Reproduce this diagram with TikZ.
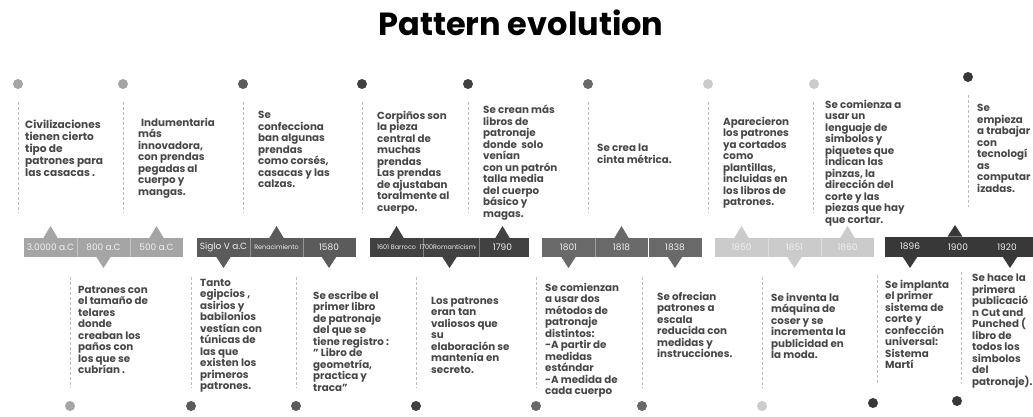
\documentclass[tikz,border=0pt]{standalone}
\usepackage{fontspec}
\setmainfont{Poppins}
\definecolor{txt}{HTML}{474747}
\definecolor{gA}{HTML}{A5A5A5}
\definecolor{gB}{HTML}{5B5B5B}
\definecolor{gC}{HTML}{414141}
\definecolor{gD}{HTML}{696969}
\definecolor{gE}{HTML}{CBCBCB}
\definecolor{gF}{HTML}{383838}
\definecolor{vl}{HTML}{BDBDBD}
\newcommand\uptri[2]{\fill[#2] (#1-7.5,238.5) -- (#1,226) -- (#1+7.5,238.5) -- cycle;}
\newcommand\dntri[2]{\fill[#2] (#1-7.5,256.5) -- (#1,268) -- (#1+7.5,256.5) -- cycle;}
\tikzset{
  dot/.style={circle, inner sep=0pt, minimum size=10pt},
  vline/.style={draw=vl, line width=0.8pt, dash pattern=on 3pt off 2pt},
  body/.style={anchor=north west, inner sep=0pt, align=left, text=txt,
    font=\bfseries\fontsize{10.3}{11.5}\selectfont},
  cell/.style={minimum width=53pt, minimum height=19pt, inner sep=0pt,
    text=white!94!black, font=\fontsize{9}{10}\selectfont},
  tiny/.style={font=\fontsize{6.4}{7}\selectfont},
  divider/.style={draw=white, draw opacity=0.35, line width=0.6pt}
}
\begin{document}
\begin{tikzpicture}[x=1pt,y=-1pt]
\useasboundingbox (0,0) rectangle (1033,417);
\fill[white] (0,0) rectangle (1033,417);

\node[font=\bfseries\fontsize{32}{36}\selectfont] (title) at (521,23) {Pattern evolution};

% ---------- bar: group 1
\node[cell, fill=gA] (c1a) at (50.5,247.5) {3.0000 a.C};
\node[cell, fill=gA] (c1b) at (103.5,247.5) {800 a.C};
\node[cell, fill=gA] (c1c) at (156.5,247.5) {500 a.C};
\uptri{50.5}{gA}\dntri{103.5}{gA}\uptri{156.5}{gA}
% group 2
\node[cell, fill=gB] (c2a) at (223.5,247.5) {Siglo V a.C};
\node[cell, fill=gB, tiny] (c2b) at (276.5,247.5) {Renacimiento};
\node[cell, fill=gB] (c2c) at (329,247.5) {1580};
\dntri{223.5}{gB}\uptri{276.5}{gB}\dntri{329}{gB}
% group 3
\node[cell, fill=gC, tiny] (c3a) at (396.5,247.5) {1601 Barroco};
\node[cell, fill=gC, tiny] (c3b) at (449.5,247.5) {1700Romanticismo};
\node[cell, fill=gC] (c3c) at (502.5,247.5) {1790};
\uptri{396.5}{gC}\dntri{449.5}{gC}\uptri{502.5}{gC}
% group 4
\node[cell, fill=gD] (c4a) at (568.5,247.5) {1801};
\node[cell, fill=gD] (c4b) at (621.5,247.5) {1818};
\node[cell, fill=gD] (c4c) at (675,247.5) {1838};
\dntri{568.5}{gD}\uptri{621.5}{gD}\dntri{675}{gD}
% group 5
\node[cell, fill=gE] (c5a) at (741.5,247.5) {1850};
\node[cell, fill=gE] (c5b) at (794.5,247.5) {1851};
\node[cell, fill=gE] (c5c) at (847.5,247.5) {1860};
\uptri{741.5}{gE}\dntri{794.5}{gE}\uptri{847.5}{gE}
% group 6
\fill[gF] (885,236.5) rectangle (1033,257);
\node[cell, fill=gF, minimum width=48pt, minimum height=20.5pt] (c6a) at (910,246.75) {1896};
\node[cell, fill=gF, minimum width=48pt, minimum height=20.5pt] (c6b) at (958,246.75) {1900};
\node[cell, fill=gF, minimum width=48pt, minimum height=20.5pt] (c6c) at (1007,246.75) {1920};
\fill[gF] (955-7.5,236.6) -- (955,225) -- (955+7.5,236.6) -- cycle;
\dntri{910}{gF}\dntri{1010}{gF}
% dividers
\foreach \c in {c1a,c1b,c2a,c2b,c3a,c3b,c4a,c4b,c5a,c5b}
  \draw[divider] (\c.north east) -- (\c.south east);

% ---------- upper events
\node[dot, fill=gA] (d1) at (18,84) {};
\draw[vline] (18,102) -- (18,213);
\node[body, font=\bfseries\fontsize{10.6}{12.2}\selectfont] (t1) at (25,119.5) {Civilizaciones\\tienen cierto\\tipo de\\patrones para\\las casacas .};

\node[dot, fill=gA] (d2) at (123,84) {};
\draw[vline] (123,102) -- (123,213);
\node[body] (t2) at (138,118) {\hspace{3pt}Indumentaria\\más\\innovadora,\\con prendas\\pegadas al\\cuerpo y\\mangas.};

\node[dot, fill=gB] (d3) at (243,84) {};
\draw[vline] (243,102) -- (243,213);
\node[body] (t3) at (258,111) {Se\\confecciona\\ban algunas\\prendas\\como corsés,\\casacas y las\\calzas.};

\node[dot, fill=gC] (d4) at (362,84) {};
\draw[vline] (362,102) -- (362,213);
\node[body] (t4) at (377,111) {Corpiños son\\la pieza\\central de\\muchas\\prendas\\Las prendas\\de ajustaban\\toralmente al\\cuerpo.};

\node[dot, fill=gC] (d5) at (468,84) {};
\draw[vline] (468,102) -- (468,213);
\node[body] (t5) at (483,105) {Se crean más\\libros de\\patronaje\\donde\ \ solo\\venían\\con un patrón\\talla media\\del cuerpo\\básico y\\magas.};

\node[dot, fill=gD] (d6) at (588,84) {};
\draw[vline] (588,102) -- (588,213);
\node[body] (t6) at (597,144) {Se crea la\\cinta métrica.};

\node[dot, fill=gE] (d7) at (708,84) {};
\draw[vline] (708,102) -- (708,213);
\node[body] (t7) at (723,117) {Aparecieron\\los patrones\\ya cortados\\como\\plantillas,\\incluidas en\\los libros de\\patrones.};

\node[dot, fill=gE] (d8) at (814,84) {};
\draw[vline] (813,102) -- (813,213);
\node[body] (t8) at (825,100) {Se comienza a\\usar un\\lenguaje de\\simbolos y\\piquetes que\\indican las\\pinzas, la\\dirección del\\corte y las\\piezas que hay\\que cortar.};

\node[dot, fill=gF] (d9) at (968,77) {};
\draw[vline] (968,95) -- (968,207);
\node[body] (t9) at (977,104) {Se\\empieza\\a trabajar\\con\\tecnologí\\as\\computar\\izadas.};

% ---------- lower events
\draw[vline] (70,277) -- (70,388);
\node[body] (tA) at (78,286) {Patrones con\\el tamaño de\\telares\\donde\\creaban los\\paños con\\los que se\\cubrían .};
\node[dot, fill=gA] (dA) at (70,406) {};

\draw[vline] (191,277) -- (191,388);
\node[body] (tB) at (200,279) {Tanto\\egipcios ,\\asirios y\\babilonios\\vestían con\\túnicas de\\las que\\existen los\\primeros\\patrones.};
\node[dot, fill=gB] (dB) at (191,406) {};

\draw[vline] (296,277) -- (296,388);
\node[body] (tC) at (313,291) {Se escribe el\\primer libro\\de patronaje\\del que se\\tiene registro :\\" Libro de\\geometría,\\practica y\\traca"};
\node[dot, fill=gB] (dC) at (296,406) {};

\draw[vline] (416,277) -- (416,388);
\node[body] (tD) at (431,297) {Los patrones\\eran tan\\valiosos que\\su\\elaboración se\\mantenía en\\secreto.};
\node[dot, fill=gC] (dD) at (416,406) {};

\draw[vline] (536,277) -- (536,388);
\node[body] (tE) at (545,283) {Se comienzan\\a usar dos\\métodos de\\patronaje\\distintos:\\-A partir de\\medidas\\estándar\\-A medida de\\cada cuerpo};
\node[dot, fill=gD] (dE) at (536,406) {};

\draw[vline] (642,277) -- (642,388);
\node[body] (tF) at (657,292) {Se ofrecian\\patrones a\\escala\\reducida con\\medidas y\\instrucciones.};
\node[dot, fill=gD] (dF) at (642,406) {};

\draw[vline] (762,277) -- (762,388);
\node[body] (tG) at (771,293) {Se inventa la\\máquina de\\coser y se\\incrementa la\\publicidad en\\la moda.};
\node[dot, fill=gE] (dG) at (762,406) {};

\draw[vline] (877,275) -- (877,385);
\node[body] (tH) at (885,280) {Se implanta\\el primer\\sistema de\\corte y\\confección\\universal:\\Sistema\\Martí};
\node[dot, fill=gF] (dH) at (873,403) {};

\draw[vline] (961,272) -- (961,383);
\node[body] (tI) at (972,274) {Se hace la\\primera\\publicació\\n Cut and\\Punched (\\libro de\\todos los\\simbolos\\del\\patronaje).};
\node[dot, fill=gF] (dI) at (957,401) {};
\end{tikzpicture}
\end{document}
